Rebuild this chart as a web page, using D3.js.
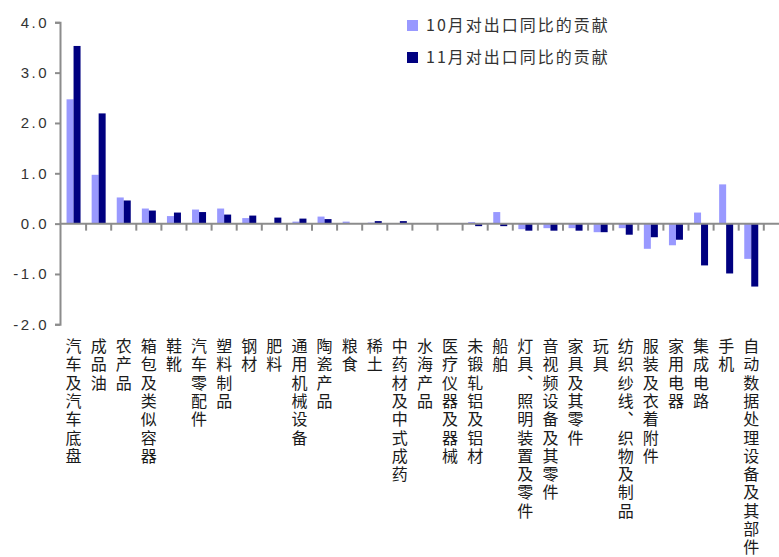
<!DOCTYPE html>
<html lang="zh">
<head>
<meta charset="utf-8">
<script src="https://cdn.jsdelivr.net/npm/d3@7"></script>
<style>
  body { margin: 0; background: #fff; }
  text { font-family: "Noto Sans CJK SC", "Noto Sans", sans-serif; }
</style>
</head>
<body>
<svg id="chart" width="779" height="557"></svg>
<script>
// categories and the two series (contribution to export yoy, pct pts)
var categories = ["汽车及汽车底盘", "成品油", "农产品", "箱包及类似容器", "鞋靴", "汽车零配件",
  "塑料制品", "钢材", "肥料", "通用机械设备", "陶瓷产品", "粮食", "稀土", "中药材及中式成药",
  "水海产品", "医疗仪器及器械", "未锻轧铝及铝材", "船舶", "灯具、照明装置及零件",
  "音视频设备及其零件", "家具及其零件", "玩具", "纺织纱线、织物及制品", "服装及衣着附件",
  "家用电器", "集成电路", "手机", "自动数据处理设备及其部件"];
var oct = [2.47, 0.97, 0.52, 0.30, 0.15, 0.28, 0.30, 0.11, 0.01, 0.04, 0.14, 0.04, 0.02, 0.01,
  0.01, 0.01, 0.03, 0.23, -0.11, -0.09, -0.09, -0.17, -0.09, -0.50, -0.43, 0.22, 0.78, -0.70];
var nov = [3.53, 2.19, 0.46, 0.26, 0.22, 0.23, 0.18, 0.16, 0.12, 0.10, 0.09, 0.01, 0.05, 0.05,
  0.00, 0.00, -0.05, -0.05, -0.14, -0.14, -0.14, -0.17, -0.22, -0.27, -0.32, -0.83, -0.99, -1.25];
var yTicks = [-2, -1, 0, 1, 2, 3, 4];
var seriesNames = ["10月对出口同比的贡献", "11月对出口同比的贡献"];
var colors = ["#9999ff", "#000080"];

var svg = d3.select("#chart");

var x = d3.scaleBand()
    .domain(categories)
    .range([61, 763.8])
    .padding(0);

var sub = d3.scaleBand()
    .domain([0, 1])
    .range([x.bandwidth() / 2 - 7, x.bandwidth() / 2 + 7]);

var y = d3.scaleLinear()
    .domain([-2, 4])
    .range([324.3, 22.3]);

// y axis
var yAxis = svg.append("g")
    .attr("transform", "translate(60,0)")
    .call(d3.axisLeft(y).tickValues(yTicks).tickSize(5).tickPadding(6)
      .tickFormat(function(d) { return d.toFixed(1); }));
yAxis.select(".domain").attr("stroke", "#8c8c8c").attr("stroke-width", 2);
yAxis.selectAll(".tick line").attr("stroke", "#8c8c8c").attr("stroke-width", 2);
yAxis.selectAll(".tick text")
    .attr("fill", "#333")
    .style("font-family", "Arial, 'Liberation Sans', sans-serif")
    .style("font-size", "15px")
    .style("letter-spacing", "2.5px");

// bars
var groups = svg.append("g").selectAll("g")
    .data(categories)
    .join("g")
    .attr("transform", function(d) { return "translate(" + x(d) + ",0)"; });

groups.selectAll("rect")
    .data(function(d, i) { return [oct[i], nov[i]]; })
    .join("rect")
    .attr("x", function(d, j) { return sub(j); })
    .attr("width", sub.bandwidth())
    .attr("y", function(d) { return y(Math.max(0, d)); })
    .attr("height", function(d) { return Math.abs(y(d) - y(0)); })
    .attr("fill", function(d, j) { return colors[j]; });

// x axis (zero line with category boundary ticks)
svg.append("line")
    .attr("x1", 60).attr("x2", 779)
    .attr("y1", y(0)).attr("y2", y(0))
    .attr("stroke", "#8c8c8c").attr("stroke-width", 2);

svg.append("g").selectAll("line")
    .data(categories)
    .join("line")
    .attr("x1", function(d) { return x(d) + x.bandwidth(); })
    .attr("x2", function(d) { return x(d) + x.bandwidth(); })
    .attr("y1", y(0)).attr("y2", y(0) + 7)
    .attr("stroke", "#8c8c8c").attr("stroke-width", 2);

// vertical category labels
svg.append("g").selectAll("text")
    .data(categories)
    .join("text")
    .attr("x", function(d) { return x(d) + x.bandwidth() / 2; })
    .attr("y", 338)
    .style("writing-mode", "vertical-rl")
    .style("font-size", "16px")
    .style("letter-spacing", "2.3px")
    .attr("fill", "#1a1a1a")
    .text(function(d) { return d; });

// legend
var legend = svg.append("g").selectAll("g")
    .data(seriesNames)
    .join("g")
    .attr("transform", function(d, i) { return "translate(407," + (20 + i * 32) + ")"; });

legend.append("rect")
    .attr("width", 11).attr("height", 11)
    .attr("fill", function(d, i) { return colors[i]; });

legend.append("text")
    .attr("x", 19).attr("y", 11)
    .style("font-size", "16px")
    .style("letter-spacing", "2px")
    .attr("fill", "#333")
    .text(function(d) { return d; });
</script>
</body>
</html>
